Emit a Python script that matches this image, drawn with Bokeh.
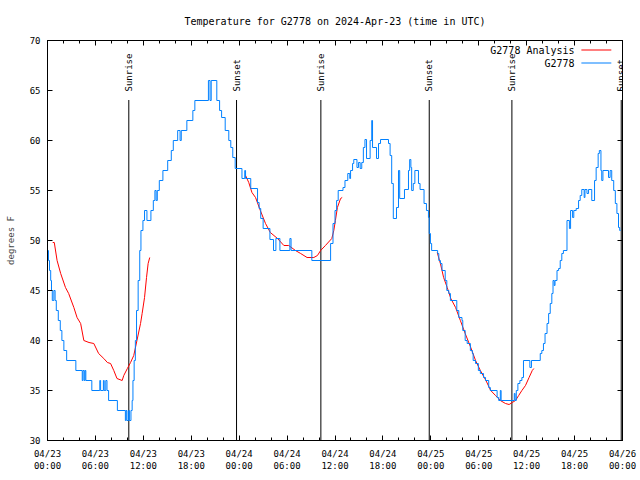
from math import pi
import numpy as np
from bokeh.plotting import figure
from bokeh.models import FixedTicker, LinearAxis, ColumnDataSource
from bokeh.core.properties import value
from bokeh.embed import file_html
from bokeh.resources import INLINE

TITLE = "Temperature for G2778 on 2024-Apr-23 (time in UTC)"

# hours since 2024-04-23 00:00 UTC
x_ticks = [0, 6, 12, 18, 24, 30, 36, 42, 48, 54, 60, 66, 72]
x_tick_labels = ["04/23\n00:00", "04/23\n06:00", "04/23\n12:00", "04/23\n18:00",
                 "04/24\n00:00", "04/24\n06:00", "04/24\n12:00", "04/24\n18:00",
                 "04/25\n00:00", "04/25\n06:00", "04/25\n12:00", "04/25\n18:00",
                 "04/26\n00:00"]
x_minor = list(range(0, 73, 2))
y_ticks = [30, 35, 40, 45, 50, 55, 60, 65, 70]

# Observed temperature (G2778), change points of a stepped record
obs_hours = [0.0, 0.12, 0.25, 0.4, 0.5, 0.6, 0.8, 0.95, 1.1, 1.35,
             1.6, 1.8, 2.05, 2.4, 3.55, 4.35, 4.45, 4.6, 4.7, 4.8,
             5.55, 6.55, 6.65, 7.0, 7.1, 7.3, 7.45, 7.65, 8.75, 9.75,
             9.85, 9.95, 10.15, 10.25, 10.45, 10.6, 10.7, 10.85, 11.0, 11.15,
             11.35, 11.55, 11.7, 11.95, 12.15, 12.45, 12.95, 13.25, 13.45, 13.6,
             13.75, 14.0, 14.45, 15.05, 15.5, 15.75, 16.3, 16.6, 16.75, 17.45,
             18.2, 18.45, 20.15, 20.35, 20.5, 21.2, 21.55, 21.8, 22.25, 22.7,
             22.95, 23.2, 23.5, 24.35, 24.7, 24.8, 25.45, 26.3, 26.5, 26.7,
             27.0, 27.85, 28.3, 28.6, 29.1, 30.35, 30.5, 33.1, 35.45, 35.75,
             36.0, 36.2, 36.4, 37.0, 37.25, 37.6, 37.85, 37.95, 38.2, 38.35,
             38.75, 38.95, 39.15, 39.35, 39.55, 39.75, 39.95, 40.4, 40.6, 40.7,
             41.2, 41.45, 41.7, 42.7, 42.9, 43.1, 43.3, 43.7, 43.95, 44.1,
             44.7, 45.2, 45.35, 45.5, 45.6, 45.8, 46.0, 46.45, 46.65, 47.15,
             47.45, 47.7, 47.8, 47.95, 48.1, 48.85, 49.0, 49.2, 49.4, 49.8,
             50.0, 50.25, 50.45, 51.25, 51.5, 51.9, 52.0, 52.3, 52.55, 52.95,
             53.2, 53.3, 53.6, 53.95, 54.2, 54.6, 54.85, 55.25, 55.45, 56.3,
             56.5, 56.7, 56.8, 58.45, 58.55, 58.7, 58.9, 59.15, 59.4, 59.6,
             60.4, 60.6, 61.7, 61.9, 62.1, 62.3, 62.55, 62.75, 62.95, 63.15,
             63.3, 63.45, 63.55, 63.8, 64.0, 64.2, 64.4, 64.6, 65.05, 65.35,
             65.5, 65.75, 65.9, 66.2, 66.5, 66.7, 66.9, 67.2, 67.3, 67.55,
             67.75, 68.15, 68.5, 68.7, 68.95, 69.1, 69.3, 69.4, 69.55, 70.25,
             70.45, 70.65, 70.9, 71.1, 71.3, 71.5, 71.65, 71.75]
obs_temps = [49, 48, 47, 46, 45, 44, 45, 44, 43, 42,
             41, 40, 39, 38, 37, 36, 37, 36, 37, 36,
             35, 36, 35, 36, 35, 36, 35, 34, 33, 32,
             33, 32, 33, 32, 33, 34, 36, 38, 40, 43,
             46, 49, 51, 52, 53, 52, 53, 54, 55, 54,
             55, 56, 57, 58, 59, 60, 61, 60, 61, 62,
             63, 64, 66, 64, 66, 64, 63, 62.3, 61, 60,
             59.3, 58.3, 57.2, 56.2, 57, 56.2, 55.2, 53.8, 53.2, 52.2,
             51.2, 50.1, 49, 50.2, 49, 50.2, 49, 48, 49.7, 51.7,
             53, 54, 55, 55.3, 56, 56.7, 56.2, 57, 57.7, 58.1,
             57.3, 57.8, 57.2, 57.8, 59.3, 60.1, 58.2, 60, 62, 59.3,
             58.2, 59.7, 60.1, 59.7, 58.5, 55.7, 52.2, 53.3, 57, 54.2,
             55.1, 57, 58.1, 57.3, 55, 55.7, 57, 55.7, 55.1, 53.7,
             53, 52.3, 50.7, 49.7, 49, 48.7, 48, 47.7, 47, 46,
             45, 44.7, 44, 43, 42.3, 42, 41, 40, 39.7, 39,
             38.7, 38, 37.7, 37, 36.7, 36.3, 36, 35.3, 35, 34.3,
             34, 35, 34, 34.7, 34, 35, 35.7, 36, 36.3, 38,
             37.3, 38, 38.7, 39, 39.7, 40.7, 41.7, 42.7, 43.7, 44.7,
             46, 45.5, 46, 47, 47.2, 48, 48.7, 49, 52, 51.2,
             53, 52.3, 53, 53.2, 54, 54.5, 55.1, 54.3, 55.1, 54.7,
             55.1, 54, 56, 57.3, 58.7, 59, 57, 56, 57, 56.3,
             57, 56, 55, 53.7, 52.7, 51.3, 51, 51]

# Analysis (G2778 Analysis), three runs separated by gaps
ana1_hours = [0.65, 0.85, 1.2, 1.65, 2.25, 2.65, 3.3, 3.7, 4.15, 4.55,
              5.2, 5.8, 6.4, 7.05, 7.5, 7.9, 8.3, 8.7, 9.35, 9.55,
              10.0, 10.4, 10.8, 11.2, 11.65, 11.85, 12.15, 12.4, 12.6, 12.8]
ana1_temps = [49.8, 49.8, 48, 46.7, 45.3, 44.7, 43.3, 42.3, 41.7, 40,
              39.8, 39.7, 38.7, 38.2, 37.8, 37.7, 37, 36.2, 36, 36.5,
              37.2, 37.8, 38.5, 40, 41.7, 42.7, 44.3, 46.3, 47.7, 48.3]
ana2_hours = [24.8, 25.2, 25.6, 26.05, 26.65, 27.3, 27.9, 28.8, 29.6, 30.2,
              31.05, 31.7, 32.5, 33.35, 33.8, 34.2, 34.8, 35.6, 35.85, 36.05,
              36.3, 36.7, 36.9]
ana2_temps = [56.5, 55.8, 54.8, 54.3, 53, 51.7, 50.8, 50.2, 49.5, 49.5,
              49, 48.7, 48.3, 48.3, 48.5, 49, 49.5, 50.2, 51, 52,
              53.3, 54.2, 54.3]
ana3_hours = [48.8, 49.2, 49.6, 50.05, 50.5, 51.1, 51.7, 52.3, 53.0, 53.6,
              54.2, 54.9, 55.5, 56.1, 56.7, 57.35, 57.8, 58.2, 58.6, 59.0,
              59.4, 59.85, 60.3, 60.7, 60.9]
ana3_temps = [48.8, 47.7, 46.3, 45.3, 44.2, 43.3, 42, 40.7, 39.3, 38,
              37, 36, 35, 34.5, 34, 33.7, 33.6, 33.8, 34, 34.5,
              35, 35.5, 36.3, 37, 37.2]

sun_hours = [10.18, 23.67, 34.23, 47.8, 58.15, 71.84]
sun_labels = ["Sunrise", "Sunset", "Sunrise", "Sunset", "Sunrise", "Sunset"]

BLUE = "#0080ff"
RED = "#ff0000"
MONO = "DejaVu Sans Mono"

p = figure(width=640, height=480, x_range=(0, 72), y_range=(30, 70),
           output_backend="svg", toolbar_location=None, title=TITLE,
           min_border_left=47, min_border_right=18,
           min_border_top=40, min_border_bottom=40)
p.xgrid.visible = False
p.ygrid.visible = False
p.outline_line_color = "black"
p.outline_line_alpha = 1.0
p.outline_line_width = 1

p.title.align = "center"
p.title.vertical_align = "bottom"
p.title.text_font = MONO
p.title.text_font_size = "10px"
p.title.text_font_style = "normal"
p.title.text_color = "black"
p.title.standoff = 27

xt = FixedTicker(ticks=x_ticks, minor_ticks=x_minor)
yt = FixedTicker(ticks=y_ticks, minor_ticks=[])

def style_axis(ax, show_labels):
    ax.major_tick_in = 5
    ax.major_tick_out = 0
    ax.minor_tick_in = 3
    ax.minor_tick_out = 0
    ax.axis_line_color = "black"
    ax.major_tick_line_color = "black"
    ax.minor_tick_line_color = "black"
    ax.major_label_text_font = MONO
    if show_labels:
        ax.major_label_text_font_size = "9px"
        ax.major_label_text_color = "black"
    else:
        # mirrored tick marks only: labels are not drawn
        ax.major_label_text_font_size = "0px"
        ax.major_label_text_color = None
        ax.major_label_standoff = 0

p.xaxis.ticker = xt
p.xaxis.major_label_overrides = {t: lab for t, lab in zip(x_ticks, x_tick_labels)}
style_axis(p.xaxis[0], True)
p.xaxis.major_label_standoff = 8

p.yaxis.ticker = yt
style_axis(p.yaxis[0], True)
p.yaxis.major_label_standoff = 7
p.yaxis.axis_label = "degrees F"
p.yaxis.axis_label_text_font = MONO
p.yaxis.axis_label_text_font_size = "9px"
p.yaxis.axis_label_text_font_style = "normal"
p.yaxis.axis_label_standoff = 11

top = LinearAxis(ticker=xt)
style_axis(top, False)
p.add_layout(top, "above")
right = LinearAxis(ticker=yt)
style_axis(right, False)
p.add_layout(right, "right")

# sunrise / sunset markers
y_lo = p.y_range.start
p.segment(x0=sun_hours, y0=[y_lo] * len(sun_hours), x1=sun_hours, y1=[64.05] * len(sun_hours),
          line_color="black", line_width=1)
p.text(x=sun_hours, y=[64.9] * len(sun_hours), text=sun_labels, angle=pi / 2,
       text_align="left", text_baseline="middle", text_font=value(MONO),
       text_font_size="9px", text_color="black")

# analysis (red) and observations (blue)
nan = [np.nan]
ana_h = ana1_hours + nan + ana2_hours + nan + ana3_hours
ana_t = ana1_temps + nan + ana2_temps + nan + ana3_temps
p.line(ana_h, ana_t, line_color=RED, line_width=1)
p.step(obs_hours, obs_temps, mode="after", line_color=BLUE, line_width=1)

# key (gnuplot style: label then sample line)
key_labels = ["G2778 Analysis", "G2778"]
key_colors = [RED, BLUE]
key_y = [69.05, 67.75]
key_src = ColumnDataSource(dict(xs=[[66.85, 70.6] for _ in key_y],
                                ys=[[ky, ky] for ky in key_y],
                                color=key_colors))
p.multi_line(xs="xs", ys="ys", line_color="color", line_width=1.2, source=key_src)
p.text(x=[66.0, 66.0], y=key_y, text=key_labels, text_align="right",
       text_baseline="middle", text_font=value(MONO), text_font_size="10px",
       text_color="black")

open("out.html", "w").write(file_html(p, INLINE))
